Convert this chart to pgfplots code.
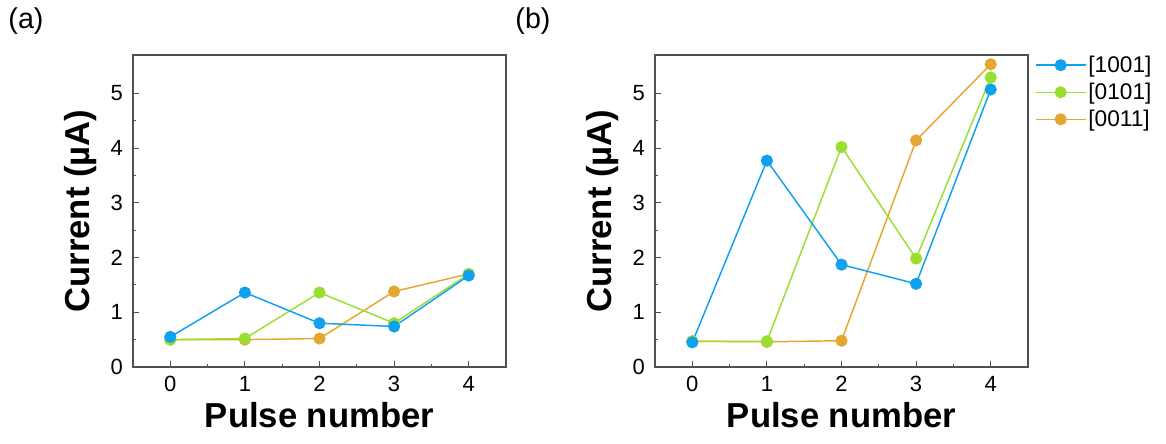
\documentclass[border=0pt]{standalone}
\usepackage{pgfplots}
\pgfplotsset{compat=1.18}
\usepackage{fontspec}
\setmainfont{Liberation Sans}
\definecolor{cblue}{RGB}{16,160,240}
\definecolor{cgreen}{RGB}{155,222,50}
\definecolor{corange}{RGB}{228,168,48}
\definecolor{axgray}{RGB}{80,80,80}
\pgfplotsset{
  panel/.style={
    scale only axis, width=279.75pt, height=234pt,
    xmin=-0.5, xmax=4.5, ymin=0, ymax=5.7,
    xtick={0,1,2,3,4}, ytick={0,1,2,3,4,5},
    minor x tick num=1, minor y tick num=1,
    tick align=inside, tick pos=left,
    major tick length=4.5pt, minor tick length=2.5pt,
    axis line style={axgray, line width=0.9pt},
    every tick/.style={axgray, line width=0.8pt},
    /pgf/number format/assume math mode=true,
    ticklabel style={font=\fontsize{16.5}{18}\selectfont, black},
    xticklabel style={yshift=-3.5pt},
    yticklabel style={xshift=-4pt},
    xlabel={Pulse number}, ylabel={Current (µA)},
    label style={font=\fontsize{26}{30}\bfseries\selectfont},
    xlabel style={at={(axis description cs:0.5,-0.112)}, anchor=north, inner sep=0pt},
    ylabel style={at={(axis description cs:-0.14,0.5)}, anchor=center, inner sep=0pt},
  },
  sb/.style={#1, line width=1.1pt, mark=*, mark size=4pt, mark options={solid, fill=#1, draw=none}},
}
\begin{document}
\begin{tikzpicture}
\path[use as bounding box] (0,0) rectangle (874.5pt,332.25pt);
\node[font=\fontsize{21.5}{24}\selectfont] at (19.5pt,316.5pt) {(a)};
\node[font=\fontsize{21.5}{24}\selectfont] at (399.75pt,316.5pt) {(b)};
\begin{axis}[panel, at={(99.75pt,57pt)}, anchor=south west]
\addplot[sb=corange] coordinates {(0,0.50) (1,0.50) (2,0.52) (3,1.38) (4,1.70)};
\addplot[sb=cgreen] coordinates {(0,0.50) (1,0.52) (2,1.36) (3,0.80) (4,1.70)};
\addplot[sb=cblue] coordinates {(0,0.55) (1,1.36) (2,0.80) (3,0.74) (4,1.67)};
\end{axis}
\begin{axis}[panel, at={(491.25pt,57pt)}, anchor=south west,
  reverse legend,
  legend style={at={(1,1)}, anchor=north west, xshift=2pt, yshift=3pt, draw=none, fill=none,
    font=\fontsize{17}{19}\selectfont, row sep=3.5pt, nodes={inner sep=1.5pt}},
  legend cell align=left,
  legend image code/.code={\draw[mark repeat=2,mark phase=2,#1,line width=1.1pt] plot coordinates {(0pt,0pt) (18.75pt,0pt) (37.5pt,0pt)};},
]
\addplot[sb=corange] coordinates {(0,0.47) (1,0.46) (2,0.48) (3,4.14) (4,5.53)};
\addlegendentry{[0011]}
\addplot[sb=cgreen] coordinates {(0,0.47) (1,0.47) (2,4.02) (3,1.98) (4,5.29)};
\addlegendentry{[0101]}
\addplot[sb=cblue] coordinates {(0,0.45) (1,3.77) (2,1.87) (3,1.52) (4,5.07)};
\addlegendentry{[1001]}
\end{axis}
\end{tikzpicture}
\end{document}
